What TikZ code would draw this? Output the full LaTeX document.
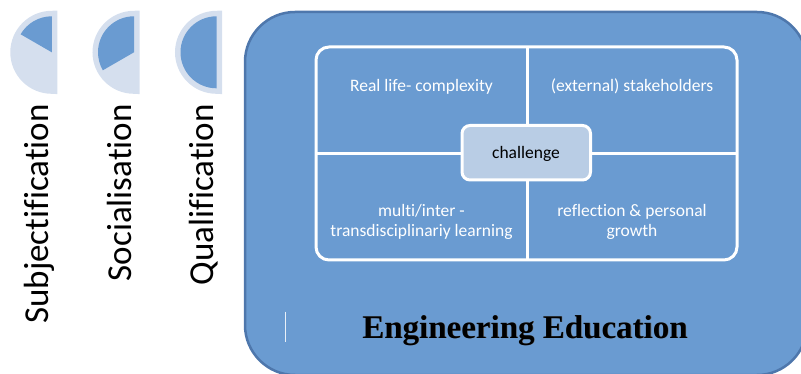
\documentclass[tikz,border=0pt]{standalone}
\usepackage{fontspec}
\setmainfont{Carlito}[Ligatures=CommonOff]
\newfontfamily\edufont{Liberation Serif}
\definecolor{boxfill}{HTML}{6A9BD1}
\definecolor{boxedge}{HTML}{4E77AC}
\definecolor{chalfill}{HTML}{B9CDE5}
\definecolor{pielight}{HTML}{D5DFEE}
\definecolor{piedark}{HTML}{6A9BD1}
\tikzset{
  bigbox/.style={fill=boxfill, draw=boxedge, line width=2.5pt, rounded corners=50pt},
  gridline/.style={draw=white, line width=3pt},
  chalbox/.style={fill=chalfill, draw=white, line width=3pt, rounded corners=8pt},
  celltext/.style={text=white, font=\fontsize{17.5}{19.5}\selectfont, align=center, inner sep=0pt},
  vlabel/.style={rotate=90, anchor=base east, inner sep=0pt, font=\fontsize{35}{40}\selectfont},
  halfbg/.style={fill=pielight, draw=pielight, line width=11pt, miter limit=10},
  wedge/.style={fill=piedark},
}
\begin{document}
\begin{tikzpicture}[x=1pt,y=-1pt]
\useasboundingbox (0,0) rectangle (801,374);
\clip (0,0) rectangle (801,374);

% half pies
\foreach \cx/\ea [count=\i] in {51.8/210, 134/150, 216.5/90}{
  \fill[halfbg] (\cx,16.3) arc[start angle=270, end angle=90, radius=36] -- cycle;
  \fill[wedge] (\cx,52.3) -- ++(270:36) arc[start angle=270, end angle=\ea, radius=36] -- cycle;
}
\node[vlabel] (subj) at (48.3,104) {Subjectification};
\node[vlabel] (soc) at (131.7,104) {Socialisation};
\node[vlabel] (qual) at (213.3,104) {Qualification};

% big box
\draw[bigbox] (245,12) rectangle (807,375);

% grid
\draw[gridline, rounded corners=13pt] (316,47) rectangle (737,260);
\coordinate (vt) at (527,47);
\coordinate (vb) at (527,260);
\coordinate (hl) at (316,153.5);
\coordinate (hr) at (737,153.5);
\draw[gridline] (vt) -- (vb);
\draw[gridline] (hl) -- (hr);
\draw[chalbox] (462,125.5) rectangle (590.5,180);
\node[celltext, text=black, anchor=base] (chal) at (526,158.3) {challenge};

\node[celltext, anchor=base] (rl) at (421.5,91.7) {Real life- complexity};
\node[celltext, anchor=base] (st) at (632,91.7) {(external) stakeholders};
\node[celltext, anchor=base] (mi1) at (421.5,216.7) {multi/inter -};
\node[celltext, anchor=base] (mi2) at (421.5,236.2) {transdisciplinariy learning};
\node[celltext, anchor=base] (rf1) at (632,216.7) {reflection \& personal};
\node[celltext, anchor=base] (rf2) at (632,236.2) {growth};

% cursor mark
\coordinate (ct) at (285.7,311.7);
\coordinate (cb) at (285.7,341.7);
\draw[draw=white!85!boxfill, line width=1.2pt] (ct) -- (cb);

% title
\node[anchor=base, inner sep=0pt, text=black!60, font=\edufont\bfseries\fontsize{33}{38}\selectfont] (eduS) at (525.6,338.6) {Engineering Education};
\node[anchor=base, inner sep=0pt, text=black, font=\edufont\bfseries\fontsize{33}{38}\selectfont] (edu) at (525,338) {Engineering Education};
\end{tikzpicture}
\end{document}
